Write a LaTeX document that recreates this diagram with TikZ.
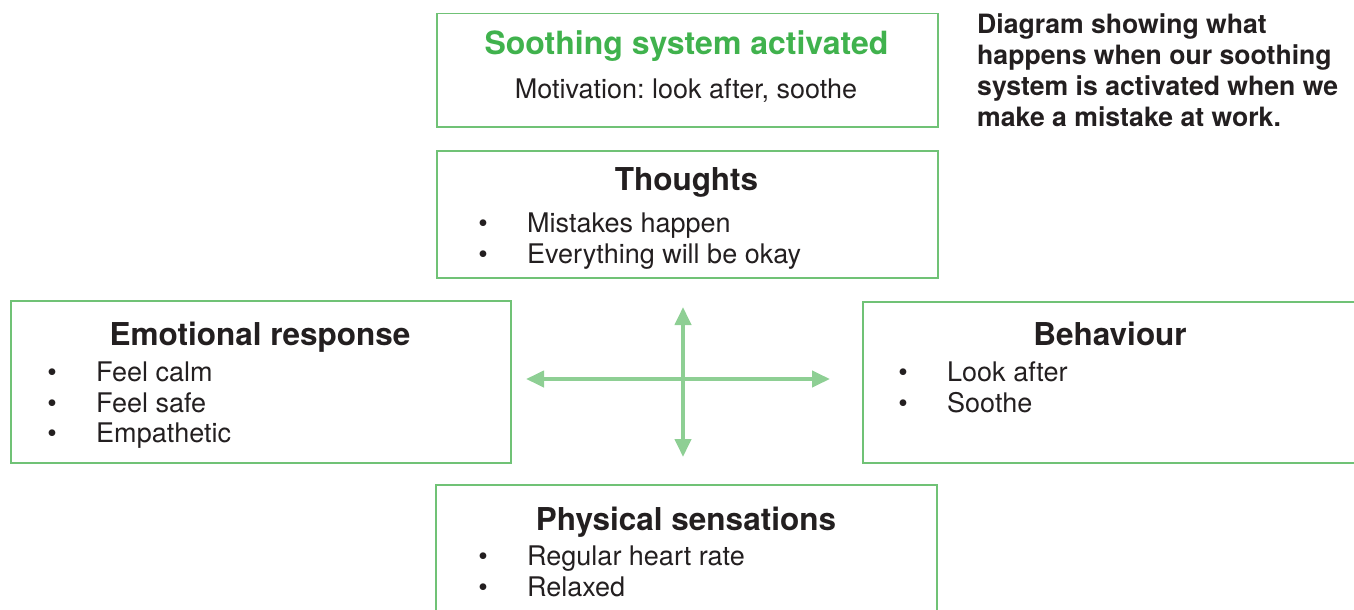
\documentclass[tikz,border=0pt]{standalone}
\usepackage{fontspec}
\setmainfont{TeX Gyre Heros}
\usetikzlibrary{arrows.meta}
\frenchspacing
\definecolor{boxgreen}{RGB}{112,194,118}
\definecolor{titlegreen}{RGB}{64,178,77}
\definecolor{arrowgreen}{RGB}{142,207,148}
\definecolor{ink}{RGB}{35,31,32}
\begin{document}
\begin{tikzpicture}[x=1pt,y=-1pt,
  box/.style={draw=boxgreen,line width=1.5pt,anchor=north west,inner sep=0pt,minimum width=501pt},
  head/.style={font=\fontsize{31.5}{37}\selectfont\bfseries,text=ink,anchor=base,inner sep=0pt},
  body/.style={font=\fontsize{27}{31}\selectfont,text=ink,anchor=base west,inner sep=0pt},
  bul/.style={font=\fontsize{27}{31}\selectfont,text=ink,anchor=base,inner sep=0pt},
  link/.style={draw=arrowgreen,line width=4pt,{Triangle[length=18pt,width=16pt]}-{Triangle[length=18pt,width=16pt]}}
]
\useasboundingbox (0,0) rectangle (1354,610);
\clip (0,0) rectangle (1354,610);

% boxes
\node[box,minimum height=113pt] (top) at (436,13) {};
\node[box,minimum height=127pt] (thoughts) at (436,150) {};
\node[box,minimum width=500pt,minimum height=162pt] (emo) at (10,300) {};
\node[box,minimum width=500pt,minimum height=161pt] (beh) at (862,301) {};
\node[box,minimum height=140pt] (phys) at (435,484) {};

% top box
\node[head,text=titlegreen,font=\fontsize{32}{37}\selectfont\bfseries] (title) at (686.5,55) {Soothing system activated};
\node[bul] (motiv) at (686,99) {Motivation: look after, soothe};

% thoughts
\node[head] (th) at (686.5,190) {Thoughts};
\node[bul] (thb1) at (483,232) {•};
\node[body] (tht1) at (527,232) {Mistakes happen};
\node[bul] (thb2) at (483,263) {•};
\node[body] (tht2) at (527,263) {Everything will be okay};

% emotional
\node[head] (eh) at (260,345) {Emotional response};
\node[bul] (eb1) at (52,381) {•};
\node[body] (et1) at (96,381) {Feel calm};
\node[bul] (eb2) at (52,412) {•};
\node[body] (et2) at (96,412) {Feel safe};
\node[bul] (eb3) at (52,442) {•};
\node[body] (et3) at (96,442) {Empathetic};

% behaviour
\node[head] (bh) at (1110,345) {Behaviour};
\node[bul] (bb1) at (903,381) {•};
\node[body] (bt1) at (947,381) {Look after};
\node[bul] (bb2) at (903,412) {•};
\node[body] (bt2) at (947,412) {Soothe};

% physical
\node[head] (ph) at (686,530) {Physical sensations};
\node[bul] (pb1) at (483,565) {•};
\node[body] (pt1) at (527,565) {Regular heart rate};
\node[bul] (pb2) at (483,596) {•};
\node[body] (pt2) at (527,596) {Relaxed};

% caption (base anchor = last line)
\node[anchor=base west,align=left,inner sep=0pt,text=ink,
  font=\fontsize{26.6}{31}\selectfont\bfseries] (cap) at (977,126)
  {Diagram showing what\\happens when our soothing\\system is activated when we\\make a mistake at work.};

% arrows
\coordinate (hl) at (526,379);
\coordinate (hr) at (830,379);
\coordinate (vt) at (683,307);
\coordinate (vb) at (683,457);
\draw[link] (hl) -- (hr);
\draw[link] (vt) -- (vb);
\end{tikzpicture}
\end{document}
